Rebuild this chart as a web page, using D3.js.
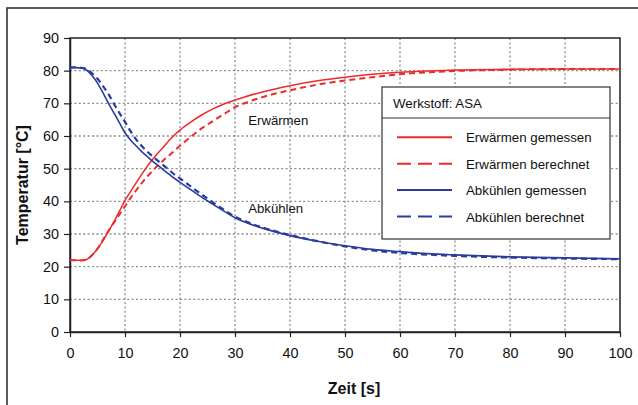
<!DOCTYPE html>
<html><head><meta charset="utf-8">
<script src="https://cdn.jsdelivr.net/npm/d3@7"></script>
<style>body{margin:0;background:#fff}svg{display:block;font-family:"Liberation Sans",Arial,sans-serif}</style>
</head><body><svg id="c" width="638" height="405"></svg>
<script>
const xTicks = [0,10,20,30,40,50,60,70,80,90,100];
const yTicks = [0,10,20,30,40,50,60,70,80,90];
const legendTitle = "Werkstoff: ASA";
const seriesNames = ["Erwärmen gemessen","Erwärmen berechnet","Abkühlen gemessen","Abkühlen berechnet"];
const timeS = [0,2,3,4,5,6,7,8,9,10,11,12,13,14,15,16,17,18,19,20,22,24,26,28,30,32,35,40,45,50,55,60,65,70,80,90,100];
const heatMeasured = [22,22,22.2,23.5,25.5,28,30.8,33.8,37,40.3,43,45.6,48.2,50.6,52.8,54.8,56.6,58.6,60.3,61.8,64.3,66.5,68.3,69.8,71,72.1,73.5,75.4,76.9,78,78.9,79.5,79.9,80.2,80.4,80.5,80.5];
const heatCalc = [22,21.9,22.2,23.5,25.5,28.2,31,33.5,36,38.5,41,43.3,45.5,47.5,49.3,51,52.6,54,55.5,57,59.8,62.4,64.6,66.7,68.8,70.2,71.9,74,75.7,77,78,78.9,79.5,79.9,80.3,80.5,80.5];
const coolMeasured = [81,80.8,80.2,78.5,76.2,73.2,70,67,64,61,58.8,57,55.3,53.8,52.3,51,49.6,48.3,47,45.8,43.5,41.2,39.1,37,35,33.5,31.8,29.5,27.8,26.4,25.3,24.6,24,23.6,23,22.7,22.4];
const coolCalc = [81,80.9,80.5,79.2,77.5,75.3,72.8,69.8,67,64.3,61.5,59,57,55.3,53.8,52.4,51,49.6,48.2,47,44.5,42,39.7,37.4,35.3,33.8,32,29.7,27.8,26.2,25,24.2,23.7,23.3,22.8,22.5,22.3];
const annotations = [{text:"Erwärmen", t:32.4, T:63.5},{text:"Abkühlen", t:32.4, T:36.3}];
</script>
<script>
const svg = d3.select("#c");
const red = "#ee2a2a", blue = "#2a3c9e";
const x = d3.scaleLinear().domain([0,100]).range([70,620]);
const y = d3.scaleLinear().domain([0,90]).range([332,38]);

// outer frame
svg.append("rect").attr("x",7).attr("y",8).attr("width",700).attr("height",500)
  .attr("fill","none").attr("stroke","#333").attr("stroke-width",1.6);

// grid
const grid = svg.append("g").attr("stroke","#8c8c8c").attr("stroke-width",1.3).attr("stroke-dasharray","2,2.4");
grid.selectAll(".gx").data(xTicks.slice(1,-1)).join("line")
  .attr("x1",d=>x(d)).attr("x2",d=>x(d)).attr("y1",y(90)).attr("y2",y(0));
grid.selectAll(".gy").data(yTicks.slice(1,-1)).join("line")
  .attr("y1",d=>y(d)).attr("y2",d=>y(d)).attr("x1",x(0)).attr("x2",x(100));

// axes
const xa = svg.append("g").attr("transform",`translate(0,${y(0)})`)
  .call(d3.axisBottom(x).tickValues(xTicks).tickSize(5).tickPadding(11).tickSizeOuter(0));
const ya = svg.append("g").attr("transform",`translate(${x(0)},0)`)
  .call(d3.axisLeft(y).tickValues(yTicks).tickSize(6).tickPadding(5).tickSizeOuter(0));
[xa,ya].forEach(a=>{a.select(".domain").attr("stroke","#222").attr("stroke-width",1.5);
  a.selectAll(".tick line").attr("stroke","#222").attr("stroke-width",1.2);
  a.selectAll("text").attr("font-size",14.4).attr("fill","#111").attr("font-family","Liberation Sans, Arial, sans-serif");});
// plot frame
svg.append("rect").attr("x",x(0)).attr("y",y(90)).attr("width",x(100)-x(0)).attr("height",y(0)-y(90))
  .attr("fill","none").attr("stroke","#222").attr("stroke-width",1.5);

// lines
const line = d3.line().x((d,i)=>x(timeS[i])).y(d=>y(d)).curve(d3.curveMonotoneX);
const series = [
  {v:heatMeasured,c:red,dash:null,w:1.5},
  {v:heatCalc,c:red,dash:"6,4",w:2},
  {v:coolMeasured,c:blue,dash:null,w:1.6},
  {v:coolCalc,c:blue,dash:"6,4",w:2.2}];
series.forEach(s=>{
  svg.append("path").attr("d",line(s.v)).attr("fill","none").attr("stroke",s.c)
    .attr("stroke-width",s.w).attr("stroke-dasharray",s.dash);
});

// annotations
annotations.forEach(a=>svg.append("text").attr("x",x(a.t)).attr("y",y(a.T)).text(a.text)
  .attr("font-size",13.2).attr("fill","#111"));

// axis titles
svg.append("text").attr("x",354).attr("y",394).attr("text-anchor","middle")
  .attr("font-size",16).attr("font-weight","bold").attr("fill","#111").text("Zeit [s]");
svg.append("text").attr("transform","translate(28,185) rotate(-90)").attr("text-anchor","middle")
  .attr("font-size",16).attr("font-weight","bold").attr("fill","#111").text("Temperatur [°C]");

// legend
const lg = svg.append("g");
lg.append("rect").attr("x",382).attr("y",87).attr("width",228).attr("height",152)
  .attr("fill","#fff").attr("stroke","#333").attr("stroke-width",1.2);
lg.append("line").attr("x1",382).attr("x2",610).attr("y1",118).attr("y2",118).attr("stroke","#333").attr("stroke-width",1.2);
lg.append("text").attr("x",393).attr("y",107.5).attr("font-size",13.3).attr("fill","#111").text(legendTitle);
seriesNames.forEach((n,i)=>{
  const yy = 137.3 + i*26.4;
  const s = series[i];
  lg.append("line").attr("x1",397).attr("x2",452).attr("y1",yy).attr("y2",yy)
    .attr("stroke",s.c).attr("stroke-width",2).attr("stroke-dasharray",s.dash?"14,7":null);
  lg.append("text").attr("x",466).attr("y",yy+5).attr("font-size",13.3).attr("fill","#111").text(n);
});
</script>
</body></html>
